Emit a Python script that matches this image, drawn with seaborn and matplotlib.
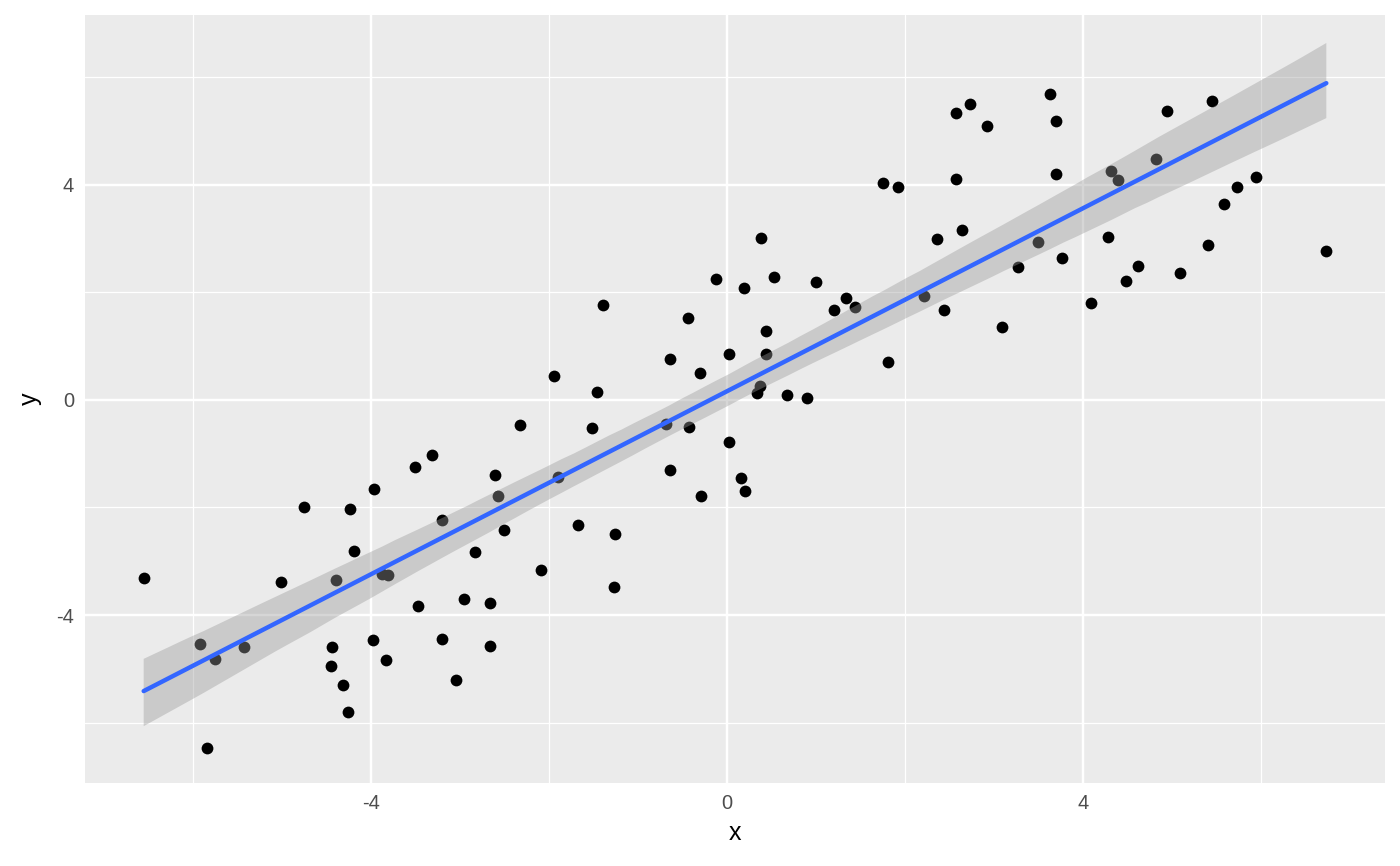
import pandas as pd
import seaborn as sns
import matplotlib.pyplot as plt

# values
x_vals = [-6.56, -5.93, -5.85, -5.76, -5.43, -5.02, -4.76, -4.44, -4.45, -4.40,
          -4.32, -4.26, -4.24, -4.19, -3.97, -3.98, -3.88, -3.81, -3.84, -3.51,
          -3.47, -3.32, -3.21, -3.20, -3.05, -2.96, -2.83, -2.67, -2.66, -2.61,
          -2.57, -2.51, -2.33, -2.09, -1.94, -1.90, -1.68, -1.52, -1.46, -1.40,
          -1.26, -1.27, -0.69, -0.64, -0.64, -0.44, -0.43, -0.30, -0.29, -0.12,
          0.02, 0.02, 0.16, 0.20, 0.19, 0.34, 0.37, 0.44, 0.44, 0.38,
          0.53, 0.67, 0.90, 1.00, 1.20, 1.34, 1.44, 1.81, 1.75, 1.92,
          2.21, 2.36, 2.44, 2.57, 2.58, 2.64, 2.73, 2.92, 3.09, 3.27,
          3.50, 3.63, 3.70, 3.70, 3.77, 4.09, 4.29, 4.32, 4.40, 4.49,
          4.62, 4.83, 4.95, 5.10, 5.41, 5.45, 5.59, 5.73, 5.95, 6.74]
y_vals = [-3.32, -4.54, -6.47, -4.81, -4.60, -3.39, -2.00, -4.60, -4.94, -3.34,
          -5.30, -5.81, -2.03, -2.81, -1.65, -4.47, -3.24, -3.25, -4.83, -1.24,
          -3.84, -1.03, -4.44, -2.24, -5.20, -3.70, -2.82, -3.77, -4.58, -1.40,
          -1.78, -2.42, -0.46, -3.17, 0.44, -1.43, -2.32, -0.52, 0.14, 1.76,
          -2.50, -3.47, -0.45, 0.75, -1.30, 1.52, -0.50, 0.50, -1.79, 2.25,
          0.86, -0.78, -1.45, -1.70, 2.08, 0.12, 0.25, 1.28, 0.85, 3.00,
          2.28, 0.09, 0.04, 2.19, 1.66, 1.89, 1.72, 0.71, 4.02, 3.95,
          1.92, 2.99, 1.66, 5.32, 4.11, 3.15, 5.50, 5.09, 1.35, 2.46,
          2.94, 5.69, 5.18, 4.19, 2.64, 1.80, 3.03, 4.26, 4.09, 2.20,
          2.48, 4.48, 5.37, 2.36, 2.87, 5.55, 3.63, 3.96, 4.14, 2.77]
major_ticks = [-4, 0, 4]
minor_ticks = [-6, -2, 2, 6]

df = pd.DataFrame({"x": x_vals, "y": y_vals})

sns.set_style("darkgrid", {"axes.facecolor": "#EBEBEB", "grid.color": "white"})
plt.rcParams['font.family'] = ['Liberation Sans', 'DejaVu Sans']
plt.rcParams['axes.unicode_minus'] = False

fig, ax = plt.subplots(figsize=(14, 8.66), dpi=100)
fig.subplots_adjust(left=85 / 1400, right=1385 / 1400, top=1 - 15 / 866, bottom=1 - 783 / 866)

# points first so the ribbon sits on top of them, like ggplot
sns.regplot(x="x", y="y", data=df, ax=ax, ci=95, seed=1,
            scatter_kws={"color": "black", "s": 72, "linewidths": 0, "alpha": 1},
            line_kws={"color": "#3366FF", "lw": 3.2})
band = ax.collections[-1]
band.set_alpha(None)
band.set_facecolor((0.6, 0.6, 0.6, 0.4))
band.set_edgecolor("none")

ax.set_xticks(major_ticks)
ax.set_yticks(major_ticks)
ax.set_xticks(minor_ticks, minor=True)
ax.set_yticks(minor_ticks, minor=True)
ax.set_xticklabels([str(t) for t in major_ticks])
ax.set_yticklabels([str(t) for t in major_ticks])
ax.grid(which="major", color="white", lw=1.75)
ax.grid(which="minor", color="white", lw=0.9)
ax.set_axisbelow(True)
ax.tick_params(which="major", length=4.5, width=1.75, color="#333333",
               labelsize=14.4, labelcolor="#4D4D4D", pad=3.5)
ax.tick_params(which="minor", length=0)
for s in ax.spines.values():
    s.set_visible(False)
ax.set_xlim(-7.22, 7.40)
ax.set_ylim(-7.12, 7.15)

ax.set_xlabel("x", fontsize=18, color="black", labelpad=6)
ax.set_ylabel("y", fontsize=18, color="black", labelpad=10)

plt.savefig("out.png", dpi=100)
